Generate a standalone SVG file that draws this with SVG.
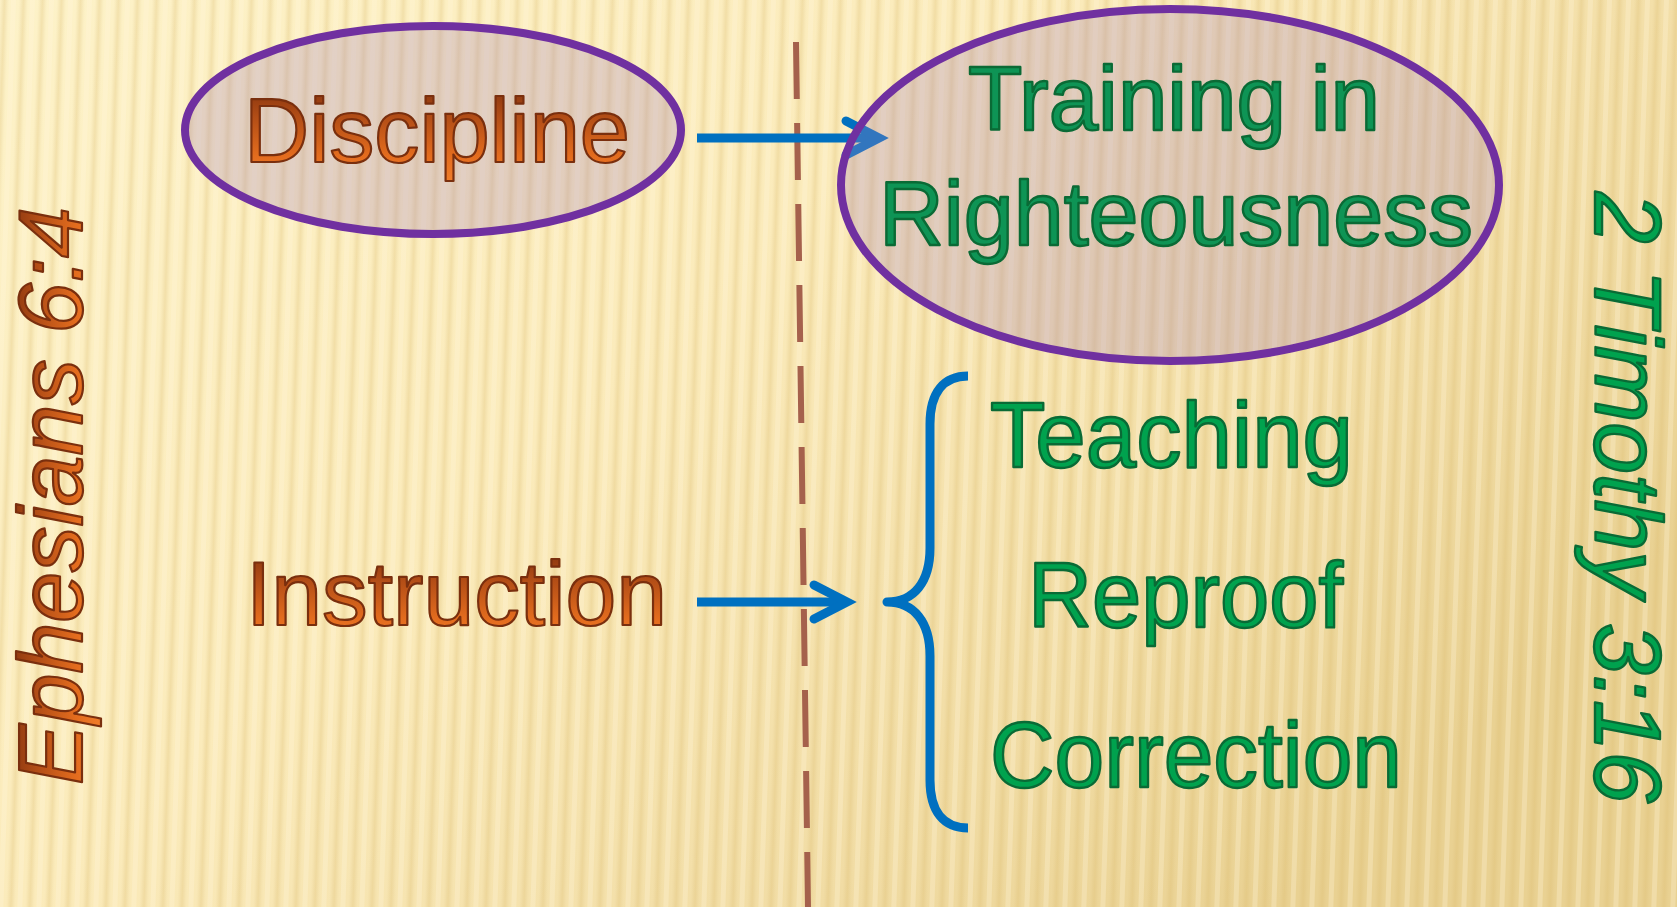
<svg xmlns="http://www.w3.org/2000/svg" width="1677" height="907" viewBox="0 0 1677 907">
  <defs>
    <linearGradient id="bg" x1="0" y1="0" x2="1" y2="0.6">
      <stop offset="0" stop-color="#fdf2c8"/>
      <stop offset="0.45" stop-color="#fbebbb"/>
      <stop offset="0.8" stop-color="#f1dca4"/>
      <stop offset="1" stop-color="#e9d192"/>
    </linearGradient>
    <linearGradient id="stripeGrad" x1="0" y1="0" x2="1" y2="0">
      <stop offset="0" stop-color="#d9b86a" stop-opacity="0"/>
      <stop offset="0.5" stop-color="#d9b86a" stop-opacity="0.28"/>
      <stop offset="1" stop-color="#d9b86a" stop-opacity="0"/>
    </linearGradient>
    <pattern id="stripes" width="19" height="907" patternUnits="userSpaceOnUse" patternTransform="skewX(-2)">
      <rect x="0" y="0" width="9" height="907" fill="url(#stripeGrad)"/>
      <rect x="11" y="0" width="5" height="907" fill="#fff8dc" opacity="0.3"/>
    </pattern>
    <linearGradient id="orange" x1="0" y1="0" x2="0" y2="1">
      <stop offset="0" stop-color="#7c2e0c"/>
      <stop offset="0.35" stop-color="#b04c16"/>
      <stop offset="0.75" stop-color="#e36c1e"/>
      <stop offset="1" stop-color="#f07d2a"/>
    </linearGradient>
    <marker id="chev" viewBox="-50 -30 60 60" markerWidth="60" markerHeight="60" refX="0" refY="0" markerUnits="userSpaceOnUse" orient="auto" overflow="visible">
      <path d="M -33 -17 L 0 0 L -33 17" fill="none" stroke="#0070C0" stroke-width="9" stroke-linecap="round" stroke-linejoin="miter" stroke-miterlimit="10"/>
    </marker>
    <style>
      .ell { fill: #a683b8; fill-opacity: 0.3; stroke: #7030A0; stroke-width: 8; }
      .orangeTxt { font-family: "Liberation Sans", Arial, sans-serif; fill: url(#orange); stroke: #7a2f0e; stroke-width: 2.2; stroke-linejoin: round; }
      .greenTxt { font-family: "Liberation Sans", Arial, sans-serif; fill: #00a24e; stroke: #0a6a35; stroke-width: 2.4; stroke-linejoin: round; }
      .darkGreen { fill: #0e9455; }
      .conn { fill: none; stroke: #0070C0; stroke-width: 9; }
      .brace { fill: none; stroke: #0070C0; stroke-width: 9; stroke-linecap: butt; stroke-linejoin: round; }
      .divider { fill: none; stroke: #a5614c; stroke-width: 6; stroke-dasharray: 57 24; }
    </style>
  </defs>

  <g id="background">
    <rect x="0" y="0" width="1677" height="907" fill="url(#bg)"/>
    <rect x="0" y="0" width="1677" height="907" fill="url(#stripes)"/>
  </g>

  <g id="divider">
    <line class="divider" x1="796" y1="42" x2="808" y2="907"/>
  </g>

  <g id="connectors">
    <path class="conn" d="M 697 138 L 879 138" marker-end="url(#chev)"/>
    <path class="conn" d="M 697 602 L 847 602" marker-end="url(#chev)"/>
  </g>

  <g id="brace">
    <path class="brace" d="M 968 376 C 944 376 930 392 930 424 L 930 548 C 930 582 914 602 887 602 C 914 602 930 622 930 656 L 930 780 C 930 812 944 828 968 828"/>
  </g>

  <g id="node-discipline">
    <ellipse class="ell" cx="433" cy="130" rx="248" ry="104"/>
    <text class="orangeTxt" x="244" y="162" font-size="91" textLength="386" lengthAdjust="spacingAndGlyphs">Discipline</text>
  </g>

  <g id="node-training">
    <ellipse class="ell" cx="1170" cy="185" rx="329" ry="176"/>
    <text class="greenTxt darkGreen" x="968" y="130" font-size="90" textLength="412" lengthAdjust="spacingAndGlyphs">Training in</text>
    <text class="greenTxt darkGreen" x="879" y="245" font-size="90" textLength="594" lengthAdjust="spacingAndGlyphs">Righteousness</text>
  </g>

  <g id="node-instruction">
    <text class="orangeTxt" x="246" y="625" font-size="91" textLength="421" lengthAdjust="spacingAndGlyphs">Instruction</text>
  </g>

  <g id="node-teaching">
    <text class="greenTxt" x="990" y="467" font-size="93" textLength="363" lengthAdjust="spacingAndGlyphs">Teaching</text>
  </g>
  <g id="node-reproof">
    <text class="greenTxt" x="1028" y="627" font-size="93" textLength="315" lengthAdjust="spacingAndGlyphs">Reproof</text>
  </g>
  <g id="node-correction">
    <text class="greenTxt" x="990" y="787" font-size="93" textLength="412" lengthAdjust="spacingAndGlyphs">Correction</text>
  </g>

  <g id="label-ephesians">
    <text class="orangeTxt" transform="translate(82,785) rotate(-90)" x="0" y="0" font-size="91" font-style="italic" textLength="578" lengthAdjust="spacingAndGlyphs">Ephesians 6:4</text>
  </g>
  <g id="label-timothy">
    <text class="greenTxt" transform="translate(1595,192) rotate(90)" x="0" y="0" font-size="94" font-style="italic" textLength="611" lengthAdjust="spacingAndGlyphs">2 Timothy 3:16</text>
  </g>
</svg>
